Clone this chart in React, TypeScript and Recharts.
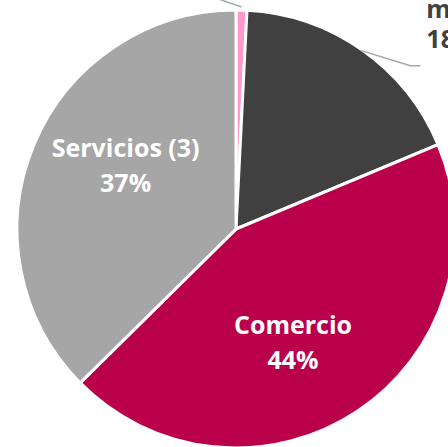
import { Pie, PieChart, Cell } from "recharts";

// sectors, clockwise from 12 o'clock
const sectors = ["Otros", "manufacturera", "Comercio", "Servicios (3)"];
const shares = [0.8, 17.9, 43.9, 37.4];
const pctLabels = ["1%", "18%", "44%", "37%"];
const colors = ["#FF99CC", "#404040", "#BB004B", "#A6A6A6"];

const data = sectors.map((name, i) => ({ name, value: shares[i] }));
const RAD = Math.PI / 180;
const font = "'Open Sans', 'DejaVu Sans', sans-serif";

function SliceLabel(props: any) {
  const { cx, cy, midAngle, outerRadius, index } = props;
  if (index === 0) {
    // small slice: only the leader line shows, the text sits above the crop
    const sx = cx + (outerRadius + 3) * Math.cos(-midAngle * RAD);
    const sy = cy + (outerRadius + 3) * Math.sin(-midAngle * RAD);
    return <polyline points={`${sx},${sy} ${sx - 40},${sy - 14}`} fill="none" stroke="#A6A6A6" strokeWidth={1.5} />;
  }
  if (index === 1) {
    const sx = cx + (outerRadius - 1) * Math.cos(-midAngle * RAD);
    const sy = cy + (outerRadius - 1) * Math.sin(-midAngle * RAD);
    const ex = sx + 49, ey = sy + 15;
    return (
      <g>
        <polyline points={`${sx},${sy} ${ex},${ey} ${ex + 10},${ey}`} fill="none" stroke="#A6A6A6" strokeWidth={1.5} />
        <text x={ex + 16} fontFamily={font} fontWeight={700} fontSize={25} fill="#404040">
          <tspan x={ex + 16} y={ey - 48}>{sectors[index]}</tspan>
          <tspan x={ex + 16} y={ey - 18}>{pctLabels[index]}</tspan>
        </text>
      </g>
    );
  }
  const a = midAngle - 7;
  const r = outerRadius * 0.58;
  const x = cx + r * Math.cos(-a * RAD);
  const y = cy + r * Math.sin(-a * RAD);
  return (
    <text x={x} textAnchor="middle" fontFamily={font} fontWeight={700} fontSize={25} fill="#FFFFFF">
      <tspan x={x} y={y - 9}>{sectors[index]}</tspan>
      <tspan x={x} y={y + 26}>{pctLabels[index]}</tspan>
    </text>
  );
}

export default function App() {
  return (
    <div style={{ position: "absolute", left: 0, top: 0, width: 448, height: 447, background: "#fff" }}>
      <PieChart width={448} height={447} margin={{ top: 0, right: 0, bottom: 0, left: 0 }}>
        <Pie
          data={data}
          dataKey="value"
          cx={236}
          cy={229}
          outerRadius={219}
          startAngle={90}
          endAngle={-270}
          stroke="#FFFFFF"
          strokeWidth={3}
          label={SliceLabel}
          labelLine={false}
          isAnimationActive={false}
        >
          {data.map((d, i) => <Cell key={d.name} fill={colors[i]} />)}
        </Pie>
      </PieChart>
    </div>
  );
}
